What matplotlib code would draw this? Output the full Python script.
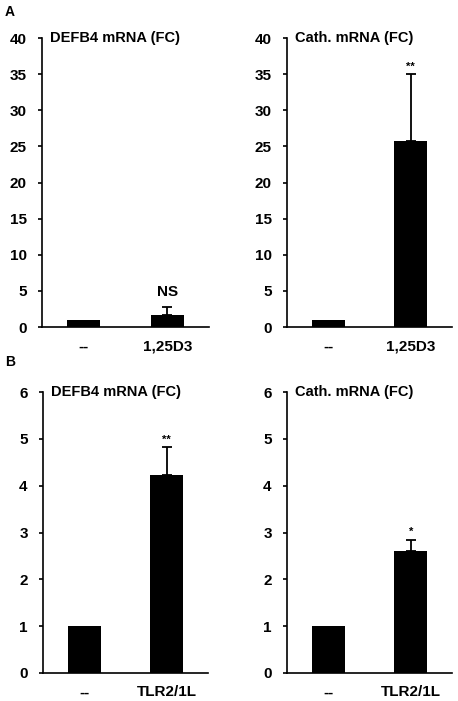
import numpy as np
import matplotlib
matplotlib.use("Agg")
import matplotlib.pyplot as plt

plt.rcParams['font.family'] = ['Liberation Sans', 'DejaVu Sans']
plt.rcParams['font.weight'] = 'bold'

# data
groups_a = ['--', '1,25D3']
groups_b = ['--', 'TLR2/1L']

defb4_a = [1.0, 1.6]
defb4_a_err = [0.0, 1.1]
cath_a = [1.0, 25.7]
cath_a_err = [0.0, 9.3]

defb4_b = [1.0, 4.23]
defb4_b_err = [0.0, 0.59]
cath_b = [1.0, 2.6]
cath_b_err = [0.0, 0.25]

titles = ['DEFB4 mRNA (FC)', 'Cath. mRNA (FC)']
sig_a = ['NS', '**']
sig_b = ['**', '*']

W, H = 458, 701
fig = plt.figure(figsize=(W / 100, H / 100), dpi=100)


def px_axes(x0, x1, y0, y1):
    return fig.add_axes([x0 / W, (H - y1) / H, (x1 - x0) / W, (y1 - y0) / H])


def panel(ax, labels, vals, errs, title, ymax, step, sig, sig_size, sig_off=2):
    x = np.arange(len(labels))
    ax.bar(x, vals, width=0.4, color='black', zorder=2)
    ax.errorbar(x[1:], vals[1:], yerr=[[0] * (len(x) - 1), errs[1:]], fmt='none',
                ecolor='black', elinewidth=1.3, capsize=3.5, capthick=1.3, zorder=3)
    ax.set_xlim(-0.5, 1.5)
    ax.set_ylim(0, ymax)
    ax.set_yticks(np.arange(0, ymax + step / 2, step))
    ax.set_xticks(x)
    ax.set_xticklabels(labels)
    ax.spines['top'].set_visible(False)
    ax.spines['right'].set_visible(False)
    ax.spines['left'].set_linewidth(1.2)
    ax.spines['bottom'].set_linewidth(1.2)
    ax.tick_params(axis='y', direction='out', length=3, width=1.2, labelsize=11, pad=8)
    ax.tick_params(axis='x', length=0, labelsize=11, pad=9)
    ax.text(0.05, 1.0, title, transform=ax.transAxes, fontsize=10.5, fontweight='bold',
            ha='left', va='center')
    top = vals[1] + errs[1]
    ax.annotate(sig, (x[1], top), xytext=(0, sig_off), textcoords='offset points',
                ha='center', va='bottom', fontsize=sig_size, fontweight='bold')


ax1 = px_axes(42, 209, 38, 327)
panel(ax1, groups_a, defb4_a, defb4_a_err, titles[0], 40, 5, sig_a[0], 11, sig_off=6)
ax2 = px_axes(287, 452, 38, 327)
panel(ax2, groups_a, cath_a, cath_a_err, titles[1], 40, 5, sig_a[1], 8)
ax3 = px_axes(43, 208, 392, 673)
panel(ax3, groups_b, defb4_b, defb4_b_err, titles[0], 6, 1, sig_b[0], 8)
ax4 = px_axes(287, 452, 392, 673)
panel(ax4, groups_b, cath_b, cath_b_err, titles[1], 6, 1, sig_b[1], 8)

fig.text(5 / W, 1 - 12 / H, 'A', fontsize=10, fontweight='bold', ha='left', va='center')
fig.text(5 / W, 1 - 362 / H, 'B', fontsize=10, fontweight='bold', ha='left', va='center')

fig.savefig('out.png', dpi=100)
